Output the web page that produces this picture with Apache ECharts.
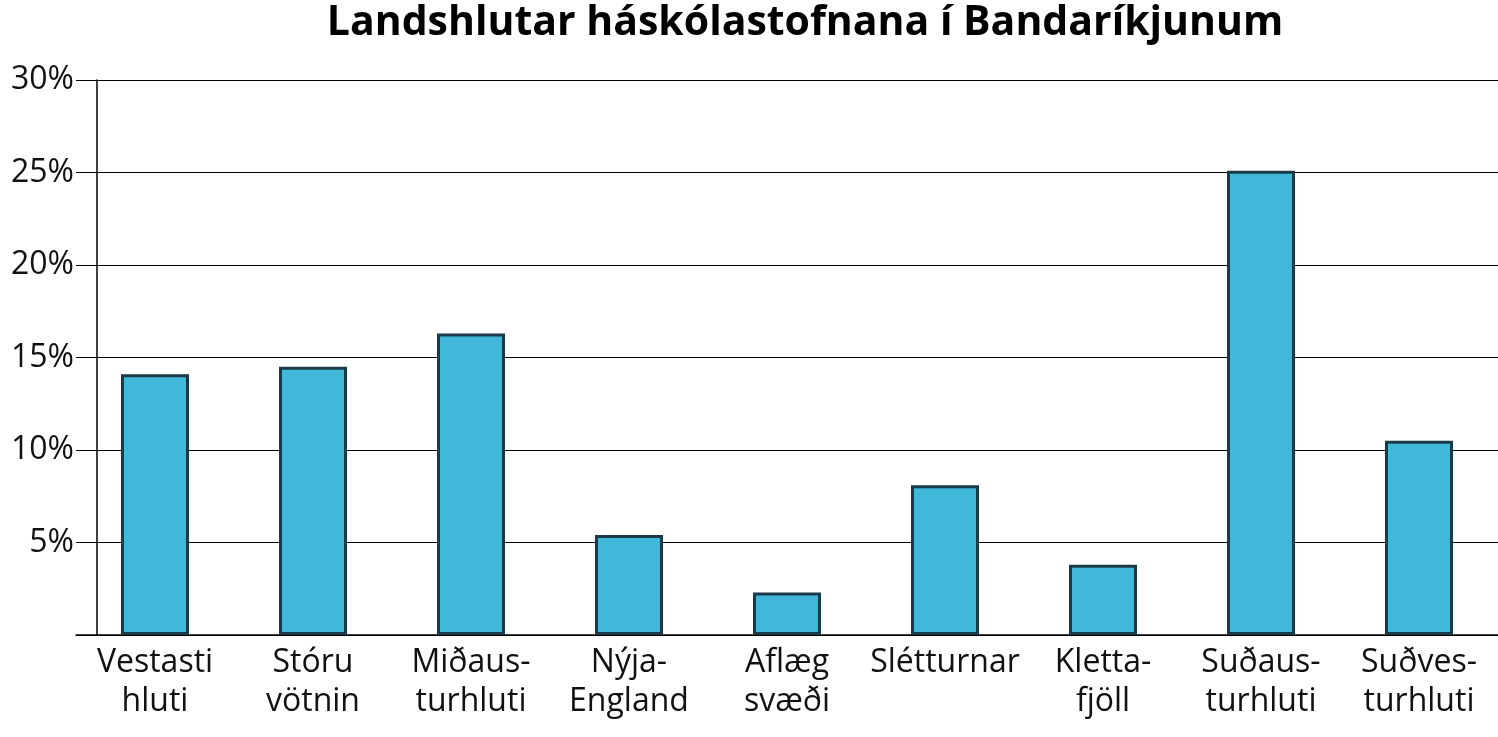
<!DOCTYPE html><html><head><meta charset="utf-8"><script src="https://cdn.jsdelivr.net/npm/echarts@6/dist/echarts.min.js"></script></head><body style="margin:0"><div id="c" style="width:1498px;height:737px"></div><script>
const categories=["Vestasti\nhluti","Stóru\nvötnin","Miðaus-\nturhluti","Nýja-\nEngland","Aflæg\nsvæði","Slétturnar","Kletta-\nfjöll","Suðaus-\nturhluti","Suðves-\nturhluti"];
const values=[14.1,14.5,16.3,5.4,2.3,8.1,3.8,25.1,10.5];
const yTicks=[0,5,10,15,20,25,30];
const ch=echarts.init(document.getElementById('c'));
ch.setOption({
 title:{text:'Landshlutar háskólastofnana í Bandaríkjunum',left:800,top:-2,textAlign:'center',textStyle:{fontFamily:'Open Sans',fontWeight:'bold',fontSize:41,color:'#000'}},
 grid:{left:76,right:-40,top:80,bottom:102},
 xAxis:{type:'category',data:categories,axisLine:{lineStyle:{color:'#000',width:1.5}},axisTick:{show:false},
  axisLabel:{interval:0,fontFamily:'Open Sans',fontSize:32,color:'#111',lineHeight:39,margin:8,verticalAlign:'top'}},
 yAxis:{type:'value',min:0,max:30,interval:5,offset:-21,axisLine:{show:true,lineStyle:{color:'#000',width:1.5}},axisTick:{show:false},
  splitLine:{lineStyle:{color:'#000',width:1.2}},
  axisLabel:{fontFamily:'Open Sans',fontSize:32,color:'#111',margin:23,formatter:v=>v===0?'':v+'%'}},
 series:[{type:'bar',data:values,barWidth:68,itemStyle:{color:'#41b8d9',borderColor:'#1a3a48',borderWidth:3}}]
});
</script></body></html>
